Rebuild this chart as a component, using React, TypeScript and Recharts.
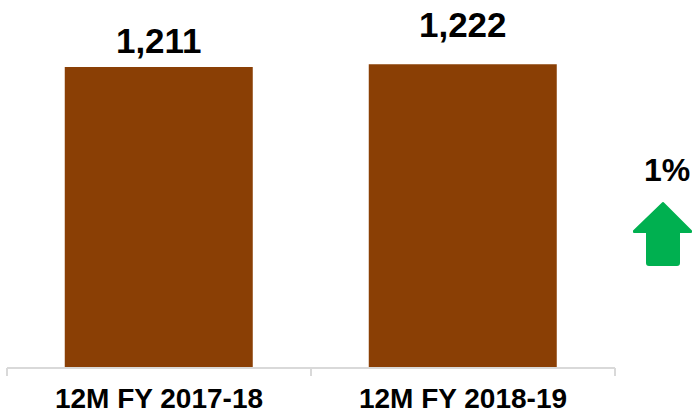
import { BarChart, Bar, XAxis, YAxis, LabelList } from 'recharts';

const periods = ['12M FY 2017-18', '12M FY 2018-19'];
const volumes = [1211, 1222];
const labelGap = [14, 27];
const growthLabel = '1%';

const data = periods.map((name, i) => ({ name, value: volumes[i] }));

const BAR_COLOR = '#8A3F05';
const AXIS_COLOR = '#D9D9D9';
const FONT = '"Liberation Sans", Arial, sans-serif';
const TICK_SIZE = 8;
const TICK_MARGIN = 12;

function ValueLabel(props: any) {
  const { x, y, width, value, index } = props;
  return (
    <text
      x={x + width / 2}
      y={y - labelGap[index]}
      textAnchor="middle"
      fontFamily={FONT}
      fontWeight="bold"
      fontSize={35}
      fill="#000"
    >
      {Number(value).toLocaleString('en-US')}
    </text>
  );
}

// category label plus tick marks on the band edges (not the centre)
function CategoryTick(props: any) {
  const { x, y, payload } = props;
  const half = payload.offset || 0;
  const axisY = y - TICK_SIZE - TICK_MARGIN;
  return (
    <g>
      <line x1={x - half} x2={x - half} y1={axisY} y2={axisY + TICK_SIZE} stroke={AXIS_COLOR} strokeWidth={2} />
      <line x1={x + half} x2={x + half} y1={axisY} y2={axisY + TICK_SIZE} stroke={AXIS_COLOR} strokeWidth={2} />
      <text
        x={x}
        y={y}
        dy="0.71em"
        textAnchor="middle"
        fontFamily={FONT}
        fontWeight="bold"
        fontSize={28}
        fill="#000"
      >
        {payload.value}
      </text>
    </g>
  );
}

export default function App() {
  return (
    <div style={{ position: 'absolute', left: 0, top: 0, width: 693, height: 414, background: '#fff' }}>
      <BarChart
        width={693}
        height={414}
        data={data}
        margin={{ top: 20, right: 78, bottom: 0, left: 7 }}
        barCategoryGap="19%"
      >
        <XAxis
          dataKey="name"
          height={46}
          axisLine={{ stroke: AXIS_COLOR, strokeWidth: 2 }}
          tickLine={false}
          tickSize={TICK_SIZE}
          tickMargin={TICK_MARGIN}
          interval={0}
          tick={<CategoryTick />}
        />
        <YAxis hide domain={[0, 1400]} />
        <Bar dataKey="value" fill={BAR_COLOR} isAnimationActive={false}>
          <LabelList dataKey="value" content={<ValueLabel />} />
        </Bar>
      </BarChart>
      <div
        style={{
          position: 'absolute',
          left: 627,
          top: 154,
          width: 80,
          textAlign: 'center',
          fontFamily: FONT,
          fontWeight: 'bold',
          fontSize: 32,
          lineHeight: '32px',
          color: '#000',
        }}
      >
        {growthLabel}
      </div>
      <svg style={{ position: 'absolute', left: 630, top: 200 }} width={63} height={70}>
        <path
          d="M33 3 L61 31 L61 32 L49 32 L49 63 Q49 65 47 65 L19 65 Q17 65 17 63 L17 32 L4 32 L4 31 Z"
          fill="#00B050"
          stroke="#00B050"
          strokeWidth={2}
          strokeLinejoin="round"
        />
      </svg>
    </div>
  );
}
